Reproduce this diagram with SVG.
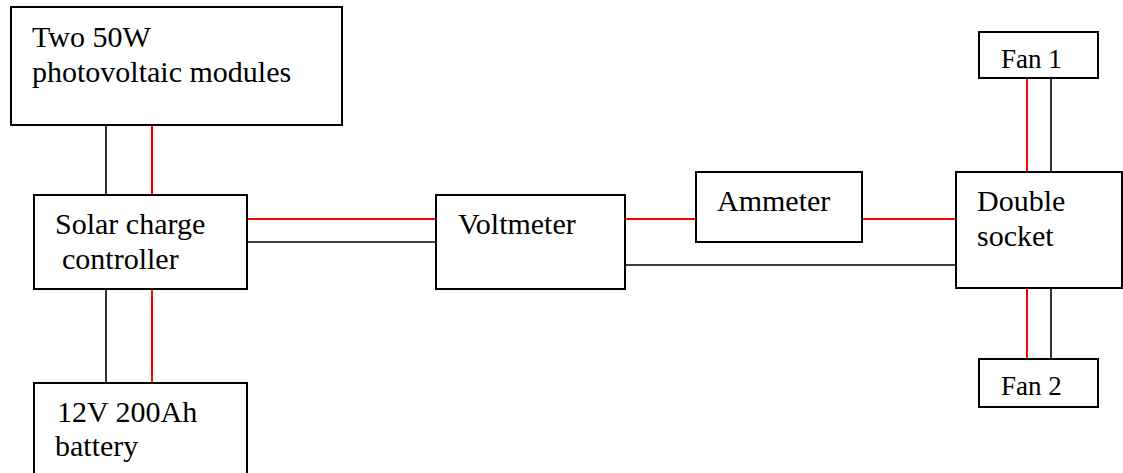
<svg xmlns="http://www.w3.org/2000/svg" width="1123" height="473" viewBox="0 0 1123 473">
  <style>
    .box { fill: #ffffff; stroke: #000000; stroke-width: 2; }
    .t { font-family: 'Liberation Serif', 'Times New Roman', Times, 'DejaVu Serif', serif; font-size: 30px; fill: #000000; }
    .ts { font-family: 'Liberation Serif', 'Times New Roman', Times, 'DejaVu Serif', serif; font-size: 27px; fill: #000000; }
    .blk { stroke: #000000; stroke-width: 1.6; fill: none; }
    .red { stroke: #ff0000; stroke-width: 2; fill: none; }
  </style>
  <rect width="1123" height="473" fill="#ffffff"/>
  <g id="connectors">
    <line class="blk" x1="106" y1="125" x2="106" y2="195"/>
    <line class="red" x1="152" y1="125" x2="152" y2="195"/>
    <line class="blk" x1="106" y1="289" x2="106" y2="383"/>
    <line class="red" x1="152" y1="289" x2="152" y2="383"/>
    <line class="red" x1="247" y1="219" x2="436" y2="219"/>
    <line class="blk" x1="247" y1="242" x2="436" y2="242"/>
    <line class="red" x1="625" y1="219" x2="696" y2="219"/>
    <line class="red" x1="862" y1="219" x2="956" y2="219"/>
    <line class="blk" x1="625" y1="265" x2="956" y2="265"/>
    <line class="red" x1="1027" y1="78" x2="1027" y2="172"/>
    <line class="blk" x1="1051" y1="78" x2="1051" y2="172"/>
    <line class="red" x1="1027" y1="288" x2="1027" y2="359"/>
    <line class="blk" x1="1051" y1="288" x2="1051" y2="359"/>
  </g>
  <g id="pv">
    <rect class="box" x="11" y="7" width="331" height="118"/>
    <text class="t" x="32" y="47">Two 50W</text>
    <text class="t" x="32" y="82">photovoltaic modules</text>
  </g>
  <g id="controller">
    <rect class="box" x="34" y="195" width="213" height="94"/>
    <text class="t" x="55" y="234">Solar charge</text>
    <text class="t" x="62" y="269">controller</text>
  </g>
  <g id="battery">
    <rect class="box" x="34" y="383" width="213" height="100"/>
    <text class="t" x="57" y="422">12V 200Ah</text>
    <text class="t" x="55" y="456">battery</text>
  </g>
  <g id="voltmeter">
    <rect class="box" x="436" y="195" width="189" height="94"/>
    <text class="t" x="458" y="234">Voltmeter</text>
  </g>
  <g id="ammeter">
    <rect class="box" x="696" y="172" width="166" height="70"/>
    <text class="t" x="717" y="211">Ammeter</text>
  </g>
  <g id="socket">
    <rect class="box" x="956" y="172" width="166" height="116"/>
    <text class="t" x="977" y="211">Double</text>
    <text class="t" x="977" y="246">socket</text>
  </g>
  <g id="fan1">
    <rect class="box" x="979" y="32" width="119" height="46"/>
    <text class="ts" x="1001" y="68">Fan 1</text>
  </g>
  <g id="fan2">
    <rect class="box" x="979" y="359" width="119" height="48"/>
    <text class="ts" x="1001" y="395">Fan 2</text>
  </g>
</svg>
